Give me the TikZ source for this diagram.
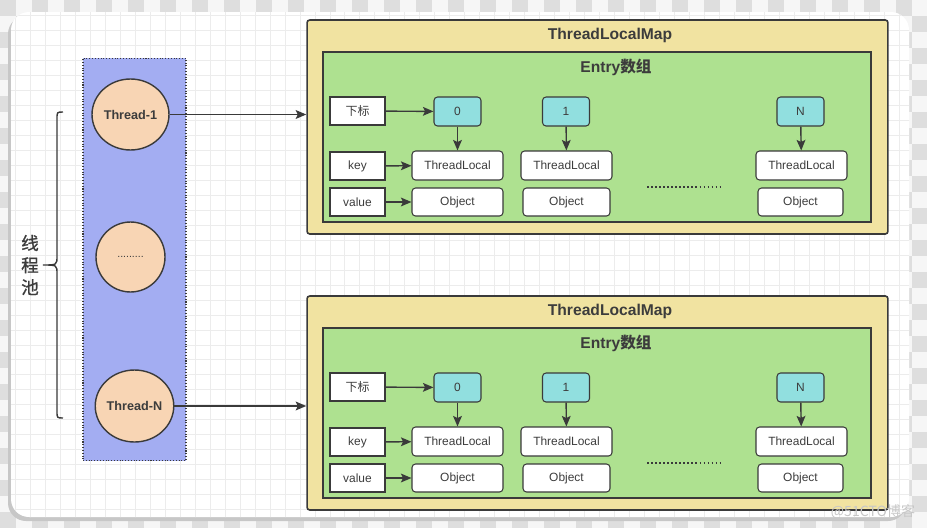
\documentclass[tikz,border=0pt]{standalone}
\usepackage{fontspec}
\setmainfont{Liberation Sans}
\newfontfamily\cjk{Noto Sans CJK SC}
\newfontfamily\cjkmid[FakeBold=1]{Noto Sans CJK SC}
\usepackage{tikz}
\usetikzlibrary{arrows,arrows.meta,calc,positioning,shapes.geometric}
\definecolor{mapbg}{RGB}{241,227,161}
\definecolor{entrybg}{RGB}{174,225,144}
\definecolor{poolbg}{RGB}{163,173,242}
\definecolor{threadbg}{RGB}{248,213,180}
\definecolor{slotbg}{RGB}{145,223,223}
\definecolor{edge}{RGB}{58,58,58}
\definecolor{txt}{RGB}{60,60,60}
\definecolor{checkA}{RGB}{246,246,246}
\definecolor{checkB}{RGB}{222,222,222}
\definecolor{gridc}{RGB}{236,236,236}
\tikzset{
  cell/.style={draw=edge, line width=0.6pt, fill=white, text=txt, inner sep=0pt,
    font=\fontsize{6.8}{8}\selectfont},
  keycell/.style={cell, minimum width=1.1cm, minimum height=0.56cm},
  objcell/.style={cell, rounded corners=2pt, minimum width=1.82cm, minimum height=0.58cm},
  slotcell/.style={cell, fill=slotbg, rounded corners=2pt, minimum width=0.94cm, minimum height=0.58cm},
  thread/.style={ellipse, draw=edge, line width=0.8pt, fill=threadbg, inner sep=0pt, text=txt,
    font=\bfseries\fontsize{7.2}{8}\selectfont},
  pool/.style={draw=edge, densely dotted, line width=0.6pt, fill=poolbg, inner sep=0pt,
    minimum width=2.06cm, minimum height=8.06cm},
  mapbox/.style={draw=edge, line width=0.9pt, fill=mapbg, rounded corners=1.5pt, inner sep=0pt,
    minimum width=11.62cm, minimum height=4.28cm},
  entrybox/.style={draw=edge, line width=0.9pt, fill=entrybg, inner sep=0pt,
    minimum width=10.96cm, minimum height=3.4cm},
  maptitle/.style={text=txt, font=\bfseries\fontsize{8.9}{10}\selectfont},
  link/.style={-{Stealth[length=6pt,width=5pt,inset=1.2pt]}, draw=edge, line width=0.8pt},
  dotrow/.style={draw=edge, line width=1pt, dash pattern=on 1pt off 1.3pt}
}
\begin{document}
\begin{tikzpicture}[x=0.02cm,y=-0.02cm]
\useasboundingbox (0,0) rectangle (927,528);
\fill[checkA] (0,0) rectangle (927,528);
\foreach \i in {0,...,57}{
  \foreach \j in {0,...,32}{
    \pgfmathtruncatemacro\s{mod(\i+\j,2)}
    \ifnum\s=0 \fill[checkB] (\i*16,\j*16) rectangle ++(16,16); \fi
  }
}
\fill[black!22, rounded corners=0.36cm] (8,16) rectangle (906,521);
\fill[white, rounded corners=0.36cm] (11,12) rectangle (909,517);
\begin{scope}
  \clip[rounded corners=0.36cm] (11,12) rectangle (909,517);
  \draw[gridc, line width=0.5pt, step=0.3cm] (0,0) grid (927,528);
\end{scope}

\node[pool] (pool) at (134.5,259.5) {};
\node[thread, minimum width=1.54cm, minimum height=1.42cm] (thread1) at (130.5,114.5) {Thread-1};
\node[thread, minimum width=1.38cm, minimum height=1.40cm, font=\fontsize{6}{7}\selectfont] (threadm) at (130.5,257) {.........};
\node[thread, minimum width=1.54cm, minimum height=1.44cm] (threadN) at (134.5,406) {Thread-N};

\draw[edge, line width=0.8pt] (63,112) .. controls (57,112) .. (57,119) -- (57,256)
  .. controls (57,265) .. (43,265) .. controls (57,265) .. (57,274) -- (57,411)
  .. controls (57,418) .. (63,418);
\node[text=txt, font=\cjkmid\fontsize{10}{12.6}\selectfont, align=center] (pooltitle) at (30,265) {线\\程\\池};

\foreach \m/\dy in {1/0,2/276}{
  \node[mapbox] (map\m) at (597.5,{127+\dy}) {};
  \node[maptitle] (maptitle\m) at (610,{35.5+\dy}) {ThreadLocalMap};
  \node[entrybox] (entry\m) at (597,{137+\dy}) {};
  \node[maptitle] (entrytitle\m) at (616,{67+\dy}) {Entry{\cjk 数组}};

  \node[keycell] (idx\m) at (357.5,{111+\dy}) {{\cjk 下标}};
  \node[keycell] (key\m) at (357.5,{166+\dy}) {key};
  \node[keycell] (val\m) at (357.5,{202+\dy}) {value};

  \node[slotcell] (slot0\m) at (457.5,{111.5+\dy}) {0};
  \node[slotcell] (slot1\m) at (566,{111.5+\dy}) {1};
  \node[slotcell] (slotN\m) at (800.5,{111.5+\dy}) {N};

  \node[objcell] (tl0\m) at (457.5,{165.5+\dy}) {ThreadLocal};
  \node[objcell] (tl1\m) at (566.5,{165.5+\dy}) {ThreadLocal};
  \node[objcell] (tlN\m) at (801.5,{165.5+\dy}) {ThreadLocal};

  \node[objcell, minimum height=0.56cm] (obj0\m) at (457.5,{202+\dy}) {Object};
  \node[objcell, minimum width=1.74cm, minimum height=0.56cm] (obj1\m) at (566.5,{202+\dy}) {Object};
  \node[objcell, minimum width=1.7cm, minimum height=0.56cm] (objN\m) at (800.5,{202+\dy}) {Object};

  \coordinate (dotsA\m) at (647,{187+\dy});
  \coordinate (dotsB\m) at (720,{187+\dy});
  \draw[dotrow] (dotsA\m) -- (dotsB\m);

  \draw[link] (idx\m) -- (slot0\m);
  \draw[link] (slot0\m) -- (tl0\m);
  \draw[link] (slot1\m) -- (tl1\m);
  \draw[link] (slotN\m) -- (tlN\m);
  \draw[link] (key\m) -- (tl0\m);
  \draw[link] (val\m) -- (obj0\m);
}

\draw[link] (thread1) -- (thread1 -| map1.west);
\draw[link] (threadN) -- (threadN -| map2.west);

\node[text=black!22, font=\cjk\fontsize{8}{9}\selectfont] (mark) at (873,512) {@51CTO博客};
\end{tikzpicture}
\end{document}
